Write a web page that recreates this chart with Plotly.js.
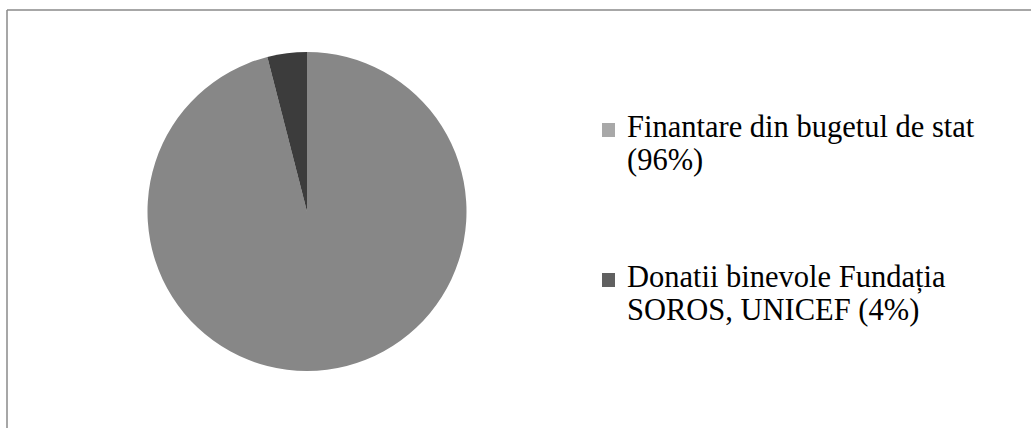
<!DOCTYPE html>
<html>
<head>
<meta charset="utf-8">
<script src="https://cdn.plot.ly/plotly-3.0.1.min.js"></script>
<style>html,body{margin:0;padding:0;background:#fff;}#chart{width:1031px;height:428px;}</style>
</head>
<body>
<div id="chart"></div>
<script>
// Data
const labels = ["Finantare din bugetul de stat (96%)", "Donatii binevole Fundația SOROS, UNICEF (4%)"];
const values = [96, 4];
const legendLines = [
  ["Finantare din bugetul de stat", "(96%)"],
  ["Donatii binevole Fundația", "SOROS, UNICEF (4%)"]
];

// Style
const W = 1031, H = 428;
const sliceColors = ["#878787", "#3c3c3c"];
const swatchColors = ["#a8a8a8", "#606060"];
const px = x => x / W;
const py = y => 1 - y / H;

const trace = {
  type: "pie",
  labels: labels,
  values: values,
  sort: false,
  direction: "clockwise",
  rotation: 0,
  textinfo: "none",
  hoverinfo: "label+percent",
  showlegend: false,
  marker: { colors: sliceColors, line: { width: 0 } },
  domain: { x: [px(146), px(468)], y: [py(371), py(52)] }
};

const itemTops = [140, 290];   // baseline of first line of each item
const lineGap = 33;
const annotations = [];
const shapes = [];
legendLines.forEach((lines, i) => {
  lines.forEach((t, j) => {
    annotations.push({
      xref: "paper", yref: "paper",
      x: px(625), y: py(itemTops[i] + j * lineGap - 13),
      xanchor: "left", yanchor: "middle",
      text: t, showarrow: false,
      font: { family: "Liberation Serif, Times New Roman, serif", size: 30.5, color: "#000" }
    });
  });
  shapes.push({
    type: "rect", xref: "paper", yref: "paper",
    x0: px(602), x1: px(615), y0: py(itemTops[i] - 17), y1: py(itemTops[i] - 3),
    fillcolor: swatchColors[i], line: { width: 0 }
  });
});
// frame (top and left edges visible)
shapes.push({ type: "line", xref: "paper", yref: "paper", x0: px(7), x1: 1, y0: py(10), y1: py(10), line: { color: "#8a8a8a", width: 1.5 } });
shapes.push({ type: "line", xref: "paper", yref: "paper", x0: px(7), x1: px(7), y0: py(10), y1: 0, line: { color: "#8a8a8a", width: 1.5 } });

const layout = {
  width: W, height: H,
  margin: { l: 0, r: 0, t: 0, b: 0 },
  paper_bgcolor: "#fff",
  showlegend: false,
  annotations: annotations,
  shapes: shapes
};
Plotly.newPlot("chart", [trace], layout, { displayModeBar: false, staticPlot: true });
</script>
</body>
</html>
